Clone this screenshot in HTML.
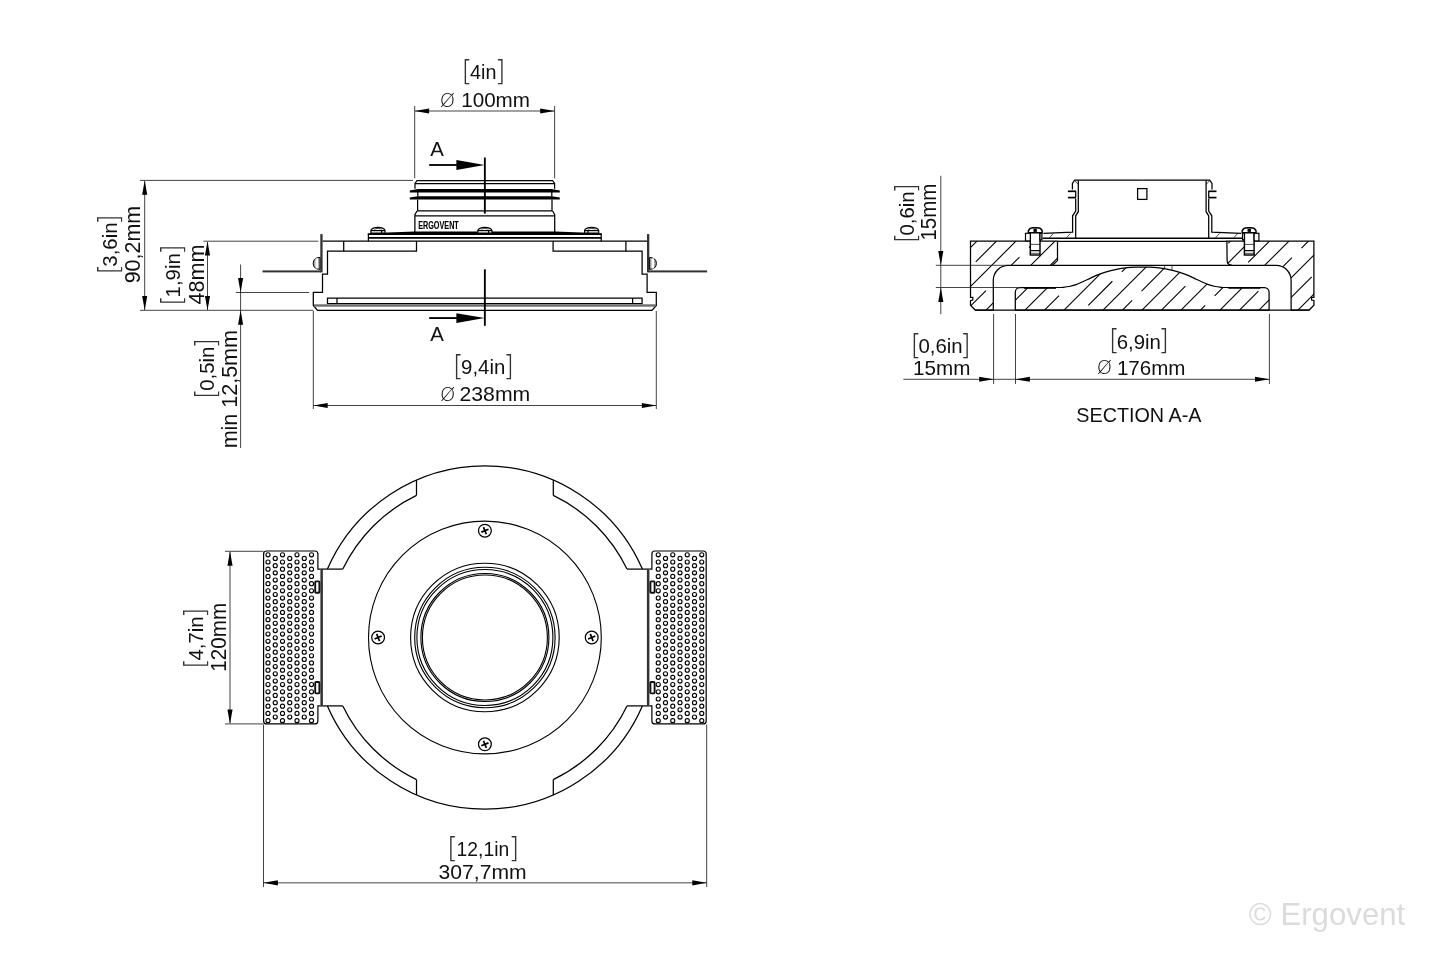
<!DOCTYPE html>
<html lang="en">
<head>
<meta charset="utf-8">
<title>Ergovent dimensional drawing</title>
<style>
html,body{margin:0;padding:0;background:#fff;}
body{width:1440px;height:960px;overflow:hidden;}
svg{display:block;will-change:transform;}
.o{stroke:#000;stroke-width:1.25;fill:none;stroke-linecap:butt;stroke-linejoin:miter;}
.o7{stroke:#000;stroke-width:.7;fill:none;}
.o13{stroke:#000;stroke-width:1.4;fill:none;}
.o16{stroke:#000;stroke-width:1.7;fill:none;}
.ow{stroke:#000;stroke-width:1.2;fill:#fff;}
.ow13{stroke:#000;stroke-width:1.45;fill:#fff;}
.sec{stroke:#000;stroke-width:1.85;fill:none;}
.fill{fill:#000;stroke:none;}
.d{stroke:#222;stroke-width:.85;fill:none;}
.h{stroke:#000;stroke-width:1.08;fill:none;}
.hd{stroke:#000;stroke-width:1.08;fill:none;stroke-dasharray:34 13.4;}
.pf{stroke:#000;stroke-width:1.12;fill:#fff;}
.band{fill:#333;stroke:none;}
.scr{fill:#aaa;stroke:#000;stroke-width:1;}
.clip{fill:#fff;stroke:#111;stroke-width:1.9;}
.oc{stroke:#000;stroke-width:1.12;fill:none;}
.ah{fill:#000;stroke:none;}
text{font-family:"Liberation Sans",sans-serif;fill:#000;}
.t{fill:#111;}
.tb{font-weight:bold;stroke:#000;stroke-width:.12;}
.br{font-family:"DejaVu Sans Light","DejaVu Sans","Liberation Sans",sans-serif;font-weight:200;fill:#333;}
.dia{font-family:"DejaVu Sans Light","DejaVu Sans","Liberation Sans",sans-serif;font-weight:200;fill:#000;}
.wm{fill:#dbdbdb;}
</style>
</head>
<body>
<svg width="1440" height="960" viewBox="0 0 1440 960">
<rect x="0" y="0" width="1440" height="960" fill="#fff"/>
<g id="elevation">
<path class="o" d="M484.8 180.5 L417 180.5 L415 183.4 L415 188.8"/>
<line class="o" x1="484.8" y1="183.5" x2="415.2" y2="183.5"/>
<line class="o" x1="417.8" y1="192" x2="417.8" y2="196.5"/>
<line class="o" x1="417.6" y1="199.5" x2="417.6" y2="210.8"/>
<path class="o" d="M417 211 L414.9 214.6 L414.9 232"/>
<line class="o" x1="484.8" y1="215.8" x2="415" y2="215.8"/>
<path class="o" d="M484.8 180.5 L552.6 180.5 L554.6 183.4 L554.6 188.8"/>
<line class="o" x1="484.8" y1="183.5" x2="554.4" y2="183.5"/>
<line class="o" x1="551.8" y1="192" x2="551.8" y2="196.5"/>
<line class="o" x1="552" y1="199.5" x2="552" y2="210.8"/>
<path class="o" d="M552.6 211 L554.7 214.6 L554.7 232"/>
<line class="o" x1="484.8" y1="215.8" x2="554.6" y2="215.8"/>
<polygon class="fill" points="409.8,190.5 418,189 551.6,189 559.8,190.5 559.8,192.5 409.8,192.5"/>
<polygon class="fill" points="409.8,197.5 418,196.3 551.6,196.3 559.8,197.5 559.8,199.5 409.8,199.5"/>
<line class="o13" x1="417" y1="210.9" x2="552.6" y2="210.9"/>
<text class="tb" x="418.2" y="228.8" textLength="40.6" lengthAdjust="spacingAndGlyphs" font-size="10.3" text-anchor="start">ERGOVENT</text>
<polygon class="fill" points="367.8,233.2 414.6,231.5 555,231.5 601.8,233.2 601.8,234.9 367.8,234.9"/>
<line class="o16" x1="368.3" y1="237.85" x2="601.3" y2="237.85"/>
<line class="o" x1="368.4" y1="233.8" x2="368.4" y2="241.2"/>
<line class="o" x1="601.2" y1="233.8" x2="601.2" y2="241.2"/>
<path class="ow" d="M370.9 233 L370.9 230.6 A7.05 3.2 0 0 1 385 230.6 L385 233 Z"/>
<line class="o" x1="370.9" y1="230.6" x2="385" y2="230.6"/>
<line class="o" x1="381.65" y1="230.6" x2="381.65" y2="233"/>
<path class="o7" d="M374.55 229.7 A3.4 1.2 0 0 1 381.35 229.7"/>
<path class="ow" d="M477.85 233 L477.85 230.6 A7.05 3.2 0 0 1 491.95 230.6 L491.95 233 Z"/>
<line class="o" x1="477.85" y1="230.6" x2="491.95" y2="230.6"/>
<line class="o" x1="488.6" y1="230.6" x2="488.6" y2="233"/>
<path class="o7" d="M481.5 229.7 A3.4 1.2 0 0 1 488.3 229.7"/>
<path class="ow" d="M584.6 233 L584.6 230.6 A7.05 3.2 0 0 1 598.7 230.6 L598.7 233 Z"/>
<line class="o" x1="584.6" y1="230.6" x2="598.7" y2="230.6"/>
<line class="o" x1="587.95" y1="230.6" x2="587.95" y2="233"/>
<path class="o7" d="M588.25 229.7 A3.4 1.2 0 0 1 595.05 229.7"/>
<line class="o" x1="322.5" y1="241.2" x2="484.8" y2="241.2"/>
<path class="o" d="M416.5 241.2 L416.5 251.2 L327.5 251.2 L327.5 274.2 L322.5 274.2 L322.5 292.3 L313.3 292.3 L313.3 305.4 L317.6 310.4 L484.8 310.4"/>
<line class="o" x1="343.7" y1="241.2" x2="343.7" y2="251.2"/>
<path class="o" d="M484.8 298.1 L327.5 298.1 L327.5 303.7 L484.8 303.7"/>
<line class="o" x1="337" y1="298.1" x2="337" y2="303.7"/>
<rect class="band" x="320.3" y="234.1" width="2.3" height="38.3"/>
<path class="scr" d="M320 257.4 Q313.2 257.8 313.2 263.4 Q313.2 269 320 269.4 Z"/>
<rect x="315.6" y="258.4" width="2.4" height="10" fill="#fff"/>
<rect class="band" x="262.5" y="270.4" width="58.5" height="2.0"/>
<line class="o" x1="647.1" y1="241.2" x2="484.8" y2="241.2"/>
<path class="o" d="M553.1 241.2 L553.1 251.2 L642.1 251.2 L642.1 274.2 L647.1 274.2 L647.1 292.3 L656.3 292.3 L656.3 305.4 L652 310.4 L484.8 310.4"/>
<line class="o" x1="625.9" y1="241.2" x2="625.9" y2="251.2"/>
<path class="o" d="M484.8 298.1 L642.1 298.1 L642.1 303.7 L484.8 303.7"/>
<line class="o" x1="632.6" y1="298.1" x2="632.6" y2="303.7"/>
<rect class="band" x="647" y="234.1" width="2.3" height="38.3"/>
<path class="scr" d="M649.6 257.4 Q656.4 257.8 656.4 263.4 Q656.4 269 649.6 269.4 Z"/>
<rect x="651.6" y="258.4" width="2.4" height="10" fill="#fff"/>
<rect class="band" x="648.6" y="270.4" width="58.5" height="2.0"/>
<rect x="314" y="304.3" width="341.6" height="2.4" fill="#6e6e6e"/>
<line class="sec" x1="484.85" y1="157.5" x2="484.85" y2="213.6"/>
<line class="sec" x1="484.85" y1="269.3" x2="484.85" y2="325.8"/>
<line class="sec" x1="429.2" y1="165" x2="460" y2="165"/>
<polygon class="ah" points="484.6,165 456.4,169.9 456.4,160.1"/>
<line class="sec" x1="429.2" y1="318.05" x2="460" y2="318.05"/>
<polygon class="ah" points="484.6,318.05 456.4,322.95 456.4,313.15"/>
<text class="t" x="437" y="156" font-size="20.4" text-anchor="middle">A</text>
<text class="t" x="437" y="340.8" font-size="20.4" text-anchor="middle">A</text>
<line class="d" x1="140" y1="180.4" x2="413" y2="180.4"/>
<line class="d" x1="140" y1="310.3" x2="313.3" y2="310.3"/>
<line class="d" x1="144.7" y1="181" x2="144.7" y2="310"/>
<polygon class="ah" points="144.7,180.4 147.25,194.8 142.15,194.8"/>
<polygon class="ah" points="144.7,310.3 142.15,295.9 147.25,295.9"/>
<line class="d" x1="203.3" y1="241.2" x2="318.3" y2="241.2"/>
<line class="d" x1="207.5" y1="242" x2="207.5" y2="310"/>
<polygon class="ah" points="207.5,241.2 210.05,255.6 204.95,255.6"/>
<polygon class="ah" points="207.5,310.3 204.95,295.9 210.05,295.9"/>
<line class="d" x1="235.8" y1="292.5" x2="309.2" y2="292.5"/>
<line class="d" x1="240.6" y1="264.5" x2="240.6" y2="448"/>
<polygon class="ah" points="240.6,292.5 238.05,278.1 243.15,278.1"/>
<polygon class="ah" points="240.6,310.3 243.15,324.7 238.05,324.7"/>
<line class="d" x1="414.7" y1="106" x2="414.7" y2="178.3"/>
<line class="d" x1="554.6" y1="106" x2="554.6" y2="178.3"/>
<line class="d" x1="414.7" y1="111" x2="554.6" y2="111"/>
<polygon class="ah" points="414.7,111 429.1,108.45 429.1,113.55"/>
<polygon class="ah" points="554.6,111 540.2,113.55 540.2,108.45"/>
<line class="d" x1="313.3" y1="311" x2="313.3" y2="409"/>
<line class="d" x1="656.3" y1="311" x2="656.3" y2="409"/>
<line class="d" x1="313.3" y1="405.5" x2="656.3" y2="405.5"/>
<polygon class="ah" points="313.3,405.5 327.7,402.95 327.7,408.05"/>
<polygon class="ah" points="656.3,405.5 641.9,408.05 641.9,402.95"/>
<text class="t" font-size="21"><tspan class="br" x="461.4" y="80.8" font-size="28" text-anchor="start">[</tspan><tspan x="483.3" y="79" text-anchor="middle" textLength="26.4" lengthAdjust="spacingAndGlyphs">4in</tspan><tspan class="br" x="505.7" y="80.8" font-size="28" text-anchor="end">]</tspan></text>
<text class="t" font-size="21"><tspan class="dia" x="447.5" y="106.6" font-size="19.5" text-anchor="middle">Ø</tspan><tspan x="495.6" y="107" text-anchor="middle" textLength="68.8" lengthAdjust="spacingAndGlyphs">100mm</tspan></text>
<text class="t" transform="translate(117 244.6) rotate(-90)" font-size="21"><tspan class="br" x="-30.1" y="1.8" font-size="28" text-anchor="start">[</tspan><tspan x="0" y="0" text-anchor="middle" textLength="44.2" lengthAdjust="spacingAndGlyphs">3,6in</tspan><tspan class="br" x="30.6" y="1.8" font-size="28" text-anchor="end">]</tspan></text>
<text class="t" x="139.7" y="244.6" transform="rotate(-90 139.7 244.6)" textLength="77.4" lengthAdjust="spacingAndGlyphs" font-size="21.6" text-anchor="middle">90,2mm</text>
<text class="t" transform="translate(180.3 275.3) rotate(-90)" font-size="21"><tspan class="br" x="-30.75" y="1.8" font-size="28" text-anchor="start">[</tspan><tspan x="0" y="0" text-anchor="middle" textLength="44.2" lengthAdjust="spacingAndGlyphs">1,9in</tspan><tspan class="br" x="31.25" y="1.8" font-size="28" text-anchor="end">]</tspan></text>
<text class="t" x="203.6" y="274.5" transform="rotate(-90 203.6 274.5)" textLength="59.8" lengthAdjust="spacingAndGlyphs" font-size="21.6" text-anchor="middle">48mm</text>
<text class="t" transform="translate(213.7 368.7) rotate(-90)" font-size="21"><tspan class="br" x="-30.5" y="1.8" font-size="28" text-anchor="start">[</tspan><tspan x="0" y="0" text-anchor="middle" textLength="44.2" lengthAdjust="spacingAndGlyphs">0,5in</tspan><tspan class="br" x="31" y="1.8" font-size="28" text-anchor="end">]</tspan></text>
<text class="t" x="236.6" y="389.2" transform="rotate(-90 236.6 389.2)" textLength="118.3" lengthAdjust="spacingAndGlyphs" font-size="21.6" text-anchor="middle">min 12,5mm</text>
<text class="t" font-size="21"><tspan class="br" x="452.7" y="375.8" font-size="28" text-anchor="start">[</tspan><tspan x="483.2" y="374" text-anchor="middle" textLength="44.2" lengthAdjust="spacingAndGlyphs">9,4in</tspan><tspan class="br" x="514.2" y="375.8" font-size="28" text-anchor="end">]</tspan></text>
<text class="t" font-size="21"><tspan class="dia" x="447.6" y="400.9" font-size="19.5" text-anchor="middle">Ø</tspan><tspan x="494.9" y="401.3" text-anchor="middle" textLength="70.8" lengthAdjust="spacingAndGlyphs">238mm</tspan></text>
</g>
<g id="plan">
<path class="o" d="M327.41 569.1 A171.7 171.7 0 0 1 642.39 569.1"/>
<path class="o" d="M416.5 495.41 A157.7 157.7 0 0 0 342.81 569.1"/>
<line class="o" x1="416.5" y1="480.01" x2="416.5" y2="495.41"/>
<line class="o" x1="342.81" y1="569.1" x2="320.3" y2="569.1"/>
<path class="o" d="M553.3 495.41 A157.7 157.7 0 0 1 626.99 569.1"/>
<line class="o" x1="553.3" y1="480.01" x2="553.3" y2="495.41"/>
<line class="o" x1="626.99" y1="569.1" x2="649.5" y2="569.1"/>
<path class="o" d="M327.41 705.9 A171.7 171.7 0 0 0 642.39 705.9"/>
<path class="o" d="M416.5 779.59 A157.7 157.7 0 0 1 342.81 705.9"/>
<line class="o" x1="416.5" y1="794.99" x2="416.5" y2="779.59"/>
<line class="o" x1="342.81" y1="705.9" x2="320.3" y2="705.9"/>
<path class="o" d="M553.3 779.59 A157.7 157.7 0 0 0 626.99 705.9"/>
<line class="o" x1="553.3" y1="794.99" x2="553.3" y2="779.59"/>
<line class="o" x1="626.99" y1="705.9" x2="649.5" y2="705.9"/>
<circle class="oc" cx="484.9" cy="637.5" r="116.4"/>
<circle class="oc" cx="484.9" cy="637.5" r="74.3"/>
<circle class="oc" cx="484.9" cy="637.5" r="70.2"/>
<circle class="oc" cx="484.9" cy="637.5" r="68"/>
<circle class="oc" cx="484.9" cy="637.5" r="64"/>
<circle class="oc" cx="484.9" cy="637.5" r="62.5"/>
<circle class="o" cx="591.7" cy="637.5" r="6.4"/>
<path class="o16" d="M588.1 638.95 l7.2 -2.9 M590.25 633.9 l2.9 7.2"/>
<circle class="o" cx="484.9" cy="744.3" r="6.4"/>
<path class="o16" d="M481.3 745.75 l7.2 -2.9 M483.45 740.7 l2.9 7.2"/>
<circle class="o" cx="378.1" cy="637.5" r="6.4"/>
<path class="o16" d="M374.5 638.95 l7.2 -2.9 M376.65 633.9 l2.9 7.2"/>
<circle class="o" cx="484.9" cy="530.7" r="6.4"/>
<path class="o16" d="M481.3 532.15 l7.2 -2.9 M483.45 527.1 l2.9 7.2"/>
<path class="ow" d="M320.4 569.1 L317.9 569.1 L317.9 554 Q317.9 551 314.9 551 L266.6 551 Q263.6 551 263.6 554 L263.6 720.9 Q263.6 723.9 266.6 723.9 L314.9 723.9 Q317.9 723.9 317.9 720.9 L317.9 705.9 L320.4 705.9"/>
<rect class="band" x="320.4" y="569.1" width="2.5" height="136.8"/>
<circle class="pf" cx="268" cy="554.8" r="2.05"/>
<circle class="pf" cx="268" cy="562.01" r="2.05"/>
<circle class="pf" cx="268" cy="569.22" r="2.05"/>
<circle class="pf" cx="268" cy="576.43" r="2.05"/>
<circle class="pf" cx="268" cy="583.64" r="2.05"/>
<circle class="pf" cx="268" cy="590.85" r="2.05"/>
<circle class="pf" cx="268" cy="598.06" r="2.05"/>
<circle class="pf" cx="268" cy="605.27" r="2.05"/>
<circle class="pf" cx="268" cy="612.48" r="2.05"/>
<circle class="pf" cx="268" cy="619.69" r="2.05"/>
<circle class="pf" cx="268" cy="626.9" r="2.05"/>
<circle class="pf" cx="268" cy="634.11" r="2.05"/>
<circle class="pf" cx="268" cy="641.32" r="2.05"/>
<circle class="pf" cx="268" cy="648.53" r="2.05"/>
<circle class="pf" cx="268" cy="655.74" r="2.05"/>
<circle class="pf" cx="268" cy="662.95" r="2.05"/>
<circle class="pf" cx="268" cy="670.16" r="2.05"/>
<circle class="pf" cx="268" cy="677.37" r="2.05"/>
<circle class="pf" cx="268" cy="684.58" r="2.05"/>
<circle class="pf" cx="268" cy="691.79" r="2.05"/>
<circle class="pf" cx="268" cy="699" r="2.05"/>
<circle class="pf" cx="268" cy="706.21" r="2.05"/>
<circle class="pf" cx="268" cy="713.42" r="2.05"/>
<circle class="pf" cx="268" cy="720.63" r="2.05"/>
<circle class="pf" cx="275.25" cy="558.45" r="2.05"/>
<circle class="pf" cx="275.25" cy="565.66" r="2.05"/>
<circle class="pf" cx="275.25" cy="572.87" r="2.05"/>
<circle class="pf" cx="275.25" cy="580.08" r="2.05"/>
<circle class="pf" cx="275.25" cy="587.29" r="2.05"/>
<circle class="pf" cx="275.25" cy="594.5" r="2.05"/>
<circle class="pf" cx="275.25" cy="601.71" r="2.05"/>
<circle class="pf" cx="275.25" cy="608.92" r="2.05"/>
<circle class="pf" cx="275.25" cy="616.13" r="2.05"/>
<circle class="pf" cx="275.25" cy="623.34" r="2.05"/>
<circle class="pf" cx="275.25" cy="630.55" r="2.05"/>
<circle class="pf" cx="275.25" cy="637.76" r="2.05"/>
<circle class="pf" cx="275.25" cy="644.97" r="2.05"/>
<circle class="pf" cx="275.25" cy="652.18" r="2.05"/>
<circle class="pf" cx="275.25" cy="659.39" r="2.05"/>
<circle class="pf" cx="275.25" cy="666.6" r="2.05"/>
<circle class="pf" cx="275.25" cy="673.81" r="2.05"/>
<circle class="pf" cx="275.25" cy="681.02" r="2.05"/>
<circle class="pf" cx="275.25" cy="688.23" r="2.05"/>
<circle class="pf" cx="275.25" cy="695.44" r="2.05"/>
<circle class="pf" cx="275.25" cy="702.65" r="2.05"/>
<circle class="pf" cx="275.25" cy="709.86" r="2.05"/>
<circle class="pf" cx="275.25" cy="717.07" r="2.05"/>
<circle class="pf" cx="282.5" cy="554.8" r="2.05"/>
<circle class="pf" cx="282.5" cy="562.01" r="2.05"/>
<circle class="pf" cx="282.5" cy="569.22" r="2.05"/>
<circle class="pf" cx="282.5" cy="576.43" r="2.05"/>
<circle class="pf" cx="282.5" cy="583.64" r="2.05"/>
<circle class="pf" cx="282.5" cy="590.85" r="2.05"/>
<circle class="pf" cx="282.5" cy="598.06" r="2.05"/>
<circle class="pf" cx="282.5" cy="605.27" r="2.05"/>
<circle class="pf" cx="282.5" cy="612.48" r="2.05"/>
<circle class="pf" cx="282.5" cy="619.69" r="2.05"/>
<circle class="pf" cx="282.5" cy="626.9" r="2.05"/>
<circle class="pf" cx="282.5" cy="634.11" r="2.05"/>
<circle class="pf" cx="282.5" cy="641.32" r="2.05"/>
<circle class="pf" cx="282.5" cy="648.53" r="2.05"/>
<circle class="pf" cx="282.5" cy="655.74" r="2.05"/>
<circle class="pf" cx="282.5" cy="662.95" r="2.05"/>
<circle class="pf" cx="282.5" cy="670.16" r="2.05"/>
<circle class="pf" cx="282.5" cy="677.37" r="2.05"/>
<circle class="pf" cx="282.5" cy="684.58" r="2.05"/>
<circle class="pf" cx="282.5" cy="691.79" r="2.05"/>
<circle class="pf" cx="282.5" cy="699" r="2.05"/>
<circle class="pf" cx="282.5" cy="706.21" r="2.05"/>
<circle class="pf" cx="282.5" cy="713.42" r="2.05"/>
<circle class="pf" cx="282.5" cy="720.63" r="2.05"/>
<circle class="pf" cx="289.75" cy="558.45" r="2.05"/>
<circle class="pf" cx="289.75" cy="565.66" r="2.05"/>
<circle class="pf" cx="289.75" cy="572.87" r="2.05"/>
<circle class="pf" cx="289.75" cy="580.08" r="2.05"/>
<circle class="pf" cx="289.75" cy="587.29" r="2.05"/>
<circle class="pf" cx="289.75" cy="594.5" r="2.05"/>
<circle class="pf" cx="289.75" cy="601.71" r="2.05"/>
<circle class="pf" cx="289.75" cy="608.92" r="2.05"/>
<circle class="pf" cx="289.75" cy="616.13" r="2.05"/>
<circle class="pf" cx="289.75" cy="623.34" r="2.05"/>
<circle class="pf" cx="289.75" cy="630.55" r="2.05"/>
<circle class="pf" cx="289.75" cy="637.76" r="2.05"/>
<circle class="pf" cx="289.75" cy="644.97" r="2.05"/>
<circle class="pf" cx="289.75" cy="652.18" r="2.05"/>
<circle class="pf" cx="289.75" cy="659.39" r="2.05"/>
<circle class="pf" cx="289.75" cy="666.6" r="2.05"/>
<circle class="pf" cx="289.75" cy="673.81" r="2.05"/>
<circle class="pf" cx="289.75" cy="681.02" r="2.05"/>
<circle class="pf" cx="289.75" cy="688.23" r="2.05"/>
<circle class="pf" cx="289.75" cy="695.44" r="2.05"/>
<circle class="pf" cx="289.75" cy="702.65" r="2.05"/>
<circle class="pf" cx="289.75" cy="709.86" r="2.05"/>
<circle class="pf" cx="289.75" cy="717.07" r="2.05"/>
<circle class="pf" cx="297" cy="554.8" r="2.05"/>
<circle class="pf" cx="297" cy="562.01" r="2.05"/>
<circle class="pf" cx="297" cy="569.22" r="2.05"/>
<circle class="pf" cx="297" cy="576.43" r="2.05"/>
<circle class="pf" cx="297" cy="583.64" r="2.05"/>
<circle class="pf" cx="297" cy="590.85" r="2.05"/>
<circle class="pf" cx="297" cy="598.06" r="2.05"/>
<circle class="pf" cx="297" cy="605.27" r="2.05"/>
<circle class="pf" cx="297" cy="612.48" r="2.05"/>
<circle class="pf" cx="297" cy="619.69" r="2.05"/>
<circle class="pf" cx="297" cy="626.9" r="2.05"/>
<circle class="pf" cx="297" cy="634.11" r="2.05"/>
<circle class="pf" cx="297" cy="641.32" r="2.05"/>
<circle class="pf" cx="297" cy="648.53" r="2.05"/>
<circle class="pf" cx="297" cy="655.74" r="2.05"/>
<circle class="pf" cx="297" cy="662.95" r="2.05"/>
<circle class="pf" cx="297" cy="670.16" r="2.05"/>
<circle class="pf" cx="297" cy="677.37" r="2.05"/>
<circle class="pf" cx="297" cy="684.58" r="2.05"/>
<circle class="pf" cx="297" cy="691.79" r="2.05"/>
<circle class="pf" cx="297" cy="699" r="2.05"/>
<circle class="pf" cx="297" cy="706.21" r="2.05"/>
<circle class="pf" cx="297" cy="713.42" r="2.05"/>
<circle class="pf" cx="297" cy="720.63" r="2.05"/>
<circle class="pf" cx="304.25" cy="558.45" r="2.05"/>
<circle class="pf" cx="304.25" cy="565.66" r="2.05"/>
<circle class="pf" cx="304.25" cy="572.87" r="2.05"/>
<circle class="pf" cx="304.25" cy="580.08" r="2.05"/>
<circle class="pf" cx="304.25" cy="587.29" r="2.05"/>
<circle class="pf" cx="304.25" cy="594.5" r="2.05"/>
<circle class="pf" cx="304.25" cy="601.71" r="2.05"/>
<circle class="pf" cx="304.25" cy="608.92" r="2.05"/>
<circle class="pf" cx="304.25" cy="616.13" r="2.05"/>
<circle class="pf" cx="304.25" cy="623.34" r="2.05"/>
<circle class="pf" cx="304.25" cy="630.55" r="2.05"/>
<circle class="pf" cx="304.25" cy="637.76" r="2.05"/>
<circle class="pf" cx="304.25" cy="644.97" r="2.05"/>
<circle class="pf" cx="304.25" cy="652.18" r="2.05"/>
<circle class="pf" cx="304.25" cy="659.39" r="2.05"/>
<circle class="pf" cx="304.25" cy="666.6" r="2.05"/>
<circle class="pf" cx="304.25" cy="673.81" r="2.05"/>
<circle class="pf" cx="304.25" cy="681.02" r="2.05"/>
<circle class="pf" cx="304.25" cy="688.23" r="2.05"/>
<circle class="pf" cx="304.25" cy="695.44" r="2.05"/>
<circle class="pf" cx="304.25" cy="702.65" r="2.05"/>
<circle class="pf" cx="304.25" cy="709.86" r="2.05"/>
<circle class="pf" cx="304.25" cy="717.07" r="2.05"/>
<circle class="pf" cx="311.5" cy="554.8" r="2.05"/>
<circle class="pf" cx="311.5" cy="562.01" r="2.05"/>
<circle class="pf" cx="311.5" cy="569.22" r="2.05"/>
<circle class="pf" cx="311.5" cy="576.43" r="2.05"/>
<circle class="pf" cx="311.5" cy="583.64" r="2.05"/>
<circle class="pf" cx="311.5" cy="590.85" r="2.05"/>
<circle class="pf" cx="311.5" cy="598.06" r="2.05"/>
<circle class="pf" cx="311.5" cy="605.27" r="2.05"/>
<circle class="pf" cx="311.5" cy="612.48" r="2.05"/>
<circle class="pf" cx="311.5" cy="619.69" r="2.05"/>
<circle class="pf" cx="311.5" cy="626.9" r="2.05"/>
<circle class="pf" cx="311.5" cy="634.11" r="2.05"/>
<circle class="pf" cx="311.5" cy="641.32" r="2.05"/>
<circle class="pf" cx="311.5" cy="648.53" r="2.05"/>
<circle class="pf" cx="311.5" cy="655.74" r="2.05"/>
<circle class="pf" cx="311.5" cy="662.95" r="2.05"/>
<circle class="pf" cx="311.5" cy="670.16" r="2.05"/>
<circle class="pf" cx="311.5" cy="677.37" r="2.05"/>
<circle class="pf" cx="311.5" cy="684.58" r="2.05"/>
<circle class="pf" cx="311.5" cy="691.79" r="2.05"/>
<circle class="pf" cx="311.5" cy="699" r="2.05"/>
<circle class="pf" cx="311.5" cy="706.21" r="2.05"/>
<circle class="pf" cx="311.5" cy="713.42" r="2.05"/>
<circle class="pf" cx="311.5" cy="720.63" r="2.05"/>
<rect class="clip" x="315.2" y="581.4" width="4.2" height="11.4" rx="0.8"/>
<rect class="clip" x="315.2" y="682" width="4.2" height="11.4" rx="0.8"/>
<path class="ow" d="M649.4 569.1 L651.9 569.1 L651.9 554 Q651.9 551 654.9 551 L703.2 551 Q706.2 551 706.2 554 L706.2 720.9 Q706.2 723.9 703.2 723.9 L654.9 723.9 Q651.9 723.9 651.9 720.9 L651.9 705.9 L649.4 705.9"/>
<rect class="band" x="646.9" y="569.1" width="2.5" height="136.8"/>
<circle class="pf" cx="658.25" cy="554.8" r="2.05"/>
<circle class="pf" cx="658.25" cy="562.01" r="2.05"/>
<circle class="pf" cx="658.25" cy="569.22" r="2.05"/>
<circle class="pf" cx="658.25" cy="576.43" r="2.05"/>
<circle class="pf" cx="658.25" cy="583.64" r="2.05"/>
<circle class="pf" cx="658.25" cy="590.85" r="2.05"/>
<circle class="pf" cx="658.25" cy="598.06" r="2.05"/>
<circle class="pf" cx="658.25" cy="605.27" r="2.05"/>
<circle class="pf" cx="658.25" cy="612.48" r="2.05"/>
<circle class="pf" cx="658.25" cy="619.69" r="2.05"/>
<circle class="pf" cx="658.25" cy="626.9" r="2.05"/>
<circle class="pf" cx="658.25" cy="634.11" r="2.05"/>
<circle class="pf" cx="658.25" cy="641.32" r="2.05"/>
<circle class="pf" cx="658.25" cy="648.53" r="2.05"/>
<circle class="pf" cx="658.25" cy="655.74" r="2.05"/>
<circle class="pf" cx="658.25" cy="662.95" r="2.05"/>
<circle class="pf" cx="658.25" cy="670.16" r="2.05"/>
<circle class="pf" cx="658.25" cy="677.37" r="2.05"/>
<circle class="pf" cx="658.25" cy="684.58" r="2.05"/>
<circle class="pf" cx="658.25" cy="691.79" r="2.05"/>
<circle class="pf" cx="658.25" cy="699" r="2.05"/>
<circle class="pf" cx="658.25" cy="706.21" r="2.05"/>
<circle class="pf" cx="658.25" cy="713.42" r="2.05"/>
<circle class="pf" cx="658.25" cy="720.63" r="2.05"/>
<circle class="pf" cx="665.5" cy="558.45" r="2.05"/>
<circle class="pf" cx="665.5" cy="565.66" r="2.05"/>
<circle class="pf" cx="665.5" cy="572.87" r="2.05"/>
<circle class="pf" cx="665.5" cy="580.08" r="2.05"/>
<circle class="pf" cx="665.5" cy="587.29" r="2.05"/>
<circle class="pf" cx="665.5" cy="594.5" r="2.05"/>
<circle class="pf" cx="665.5" cy="601.71" r="2.05"/>
<circle class="pf" cx="665.5" cy="608.92" r="2.05"/>
<circle class="pf" cx="665.5" cy="616.13" r="2.05"/>
<circle class="pf" cx="665.5" cy="623.34" r="2.05"/>
<circle class="pf" cx="665.5" cy="630.55" r="2.05"/>
<circle class="pf" cx="665.5" cy="637.76" r="2.05"/>
<circle class="pf" cx="665.5" cy="644.97" r="2.05"/>
<circle class="pf" cx="665.5" cy="652.18" r="2.05"/>
<circle class="pf" cx="665.5" cy="659.39" r="2.05"/>
<circle class="pf" cx="665.5" cy="666.6" r="2.05"/>
<circle class="pf" cx="665.5" cy="673.81" r="2.05"/>
<circle class="pf" cx="665.5" cy="681.02" r="2.05"/>
<circle class="pf" cx="665.5" cy="688.23" r="2.05"/>
<circle class="pf" cx="665.5" cy="695.44" r="2.05"/>
<circle class="pf" cx="665.5" cy="702.65" r="2.05"/>
<circle class="pf" cx="665.5" cy="709.86" r="2.05"/>
<circle class="pf" cx="665.5" cy="717.07" r="2.05"/>
<circle class="pf" cx="672.75" cy="554.8" r="2.05"/>
<circle class="pf" cx="672.75" cy="562.01" r="2.05"/>
<circle class="pf" cx="672.75" cy="569.22" r="2.05"/>
<circle class="pf" cx="672.75" cy="576.43" r="2.05"/>
<circle class="pf" cx="672.75" cy="583.64" r="2.05"/>
<circle class="pf" cx="672.75" cy="590.85" r="2.05"/>
<circle class="pf" cx="672.75" cy="598.06" r="2.05"/>
<circle class="pf" cx="672.75" cy="605.27" r="2.05"/>
<circle class="pf" cx="672.75" cy="612.48" r="2.05"/>
<circle class="pf" cx="672.75" cy="619.69" r="2.05"/>
<circle class="pf" cx="672.75" cy="626.9" r="2.05"/>
<circle class="pf" cx="672.75" cy="634.11" r="2.05"/>
<circle class="pf" cx="672.75" cy="641.32" r="2.05"/>
<circle class="pf" cx="672.75" cy="648.53" r="2.05"/>
<circle class="pf" cx="672.75" cy="655.74" r="2.05"/>
<circle class="pf" cx="672.75" cy="662.95" r="2.05"/>
<circle class="pf" cx="672.75" cy="670.16" r="2.05"/>
<circle class="pf" cx="672.75" cy="677.37" r="2.05"/>
<circle class="pf" cx="672.75" cy="684.58" r="2.05"/>
<circle class="pf" cx="672.75" cy="691.79" r="2.05"/>
<circle class="pf" cx="672.75" cy="699" r="2.05"/>
<circle class="pf" cx="672.75" cy="706.21" r="2.05"/>
<circle class="pf" cx="672.75" cy="713.42" r="2.05"/>
<circle class="pf" cx="672.75" cy="720.63" r="2.05"/>
<circle class="pf" cx="680" cy="558.45" r="2.05"/>
<circle class="pf" cx="680" cy="565.66" r="2.05"/>
<circle class="pf" cx="680" cy="572.87" r="2.05"/>
<circle class="pf" cx="680" cy="580.08" r="2.05"/>
<circle class="pf" cx="680" cy="587.29" r="2.05"/>
<circle class="pf" cx="680" cy="594.5" r="2.05"/>
<circle class="pf" cx="680" cy="601.71" r="2.05"/>
<circle class="pf" cx="680" cy="608.92" r="2.05"/>
<circle class="pf" cx="680" cy="616.13" r="2.05"/>
<circle class="pf" cx="680" cy="623.34" r="2.05"/>
<circle class="pf" cx="680" cy="630.55" r="2.05"/>
<circle class="pf" cx="680" cy="637.76" r="2.05"/>
<circle class="pf" cx="680" cy="644.97" r="2.05"/>
<circle class="pf" cx="680" cy="652.18" r="2.05"/>
<circle class="pf" cx="680" cy="659.39" r="2.05"/>
<circle class="pf" cx="680" cy="666.6" r="2.05"/>
<circle class="pf" cx="680" cy="673.81" r="2.05"/>
<circle class="pf" cx="680" cy="681.02" r="2.05"/>
<circle class="pf" cx="680" cy="688.23" r="2.05"/>
<circle class="pf" cx="680" cy="695.44" r="2.05"/>
<circle class="pf" cx="680" cy="702.65" r="2.05"/>
<circle class="pf" cx="680" cy="709.86" r="2.05"/>
<circle class="pf" cx="680" cy="717.07" r="2.05"/>
<circle class="pf" cx="687.25" cy="554.8" r="2.05"/>
<circle class="pf" cx="687.25" cy="562.01" r="2.05"/>
<circle class="pf" cx="687.25" cy="569.22" r="2.05"/>
<circle class="pf" cx="687.25" cy="576.43" r="2.05"/>
<circle class="pf" cx="687.25" cy="583.64" r="2.05"/>
<circle class="pf" cx="687.25" cy="590.85" r="2.05"/>
<circle class="pf" cx="687.25" cy="598.06" r="2.05"/>
<circle class="pf" cx="687.25" cy="605.27" r="2.05"/>
<circle class="pf" cx="687.25" cy="612.48" r="2.05"/>
<circle class="pf" cx="687.25" cy="619.69" r="2.05"/>
<circle class="pf" cx="687.25" cy="626.9" r="2.05"/>
<circle class="pf" cx="687.25" cy="634.11" r="2.05"/>
<circle class="pf" cx="687.25" cy="641.32" r="2.05"/>
<circle class="pf" cx="687.25" cy="648.53" r="2.05"/>
<circle class="pf" cx="687.25" cy="655.74" r="2.05"/>
<circle class="pf" cx="687.25" cy="662.95" r="2.05"/>
<circle class="pf" cx="687.25" cy="670.16" r="2.05"/>
<circle class="pf" cx="687.25" cy="677.37" r="2.05"/>
<circle class="pf" cx="687.25" cy="684.58" r="2.05"/>
<circle class="pf" cx="687.25" cy="691.79" r="2.05"/>
<circle class="pf" cx="687.25" cy="699" r="2.05"/>
<circle class="pf" cx="687.25" cy="706.21" r="2.05"/>
<circle class="pf" cx="687.25" cy="713.42" r="2.05"/>
<circle class="pf" cx="687.25" cy="720.63" r="2.05"/>
<circle class="pf" cx="694.5" cy="558.45" r="2.05"/>
<circle class="pf" cx="694.5" cy="565.66" r="2.05"/>
<circle class="pf" cx="694.5" cy="572.87" r="2.05"/>
<circle class="pf" cx="694.5" cy="580.08" r="2.05"/>
<circle class="pf" cx="694.5" cy="587.29" r="2.05"/>
<circle class="pf" cx="694.5" cy="594.5" r="2.05"/>
<circle class="pf" cx="694.5" cy="601.71" r="2.05"/>
<circle class="pf" cx="694.5" cy="608.92" r="2.05"/>
<circle class="pf" cx="694.5" cy="616.13" r="2.05"/>
<circle class="pf" cx="694.5" cy="623.34" r="2.05"/>
<circle class="pf" cx="694.5" cy="630.55" r="2.05"/>
<circle class="pf" cx="694.5" cy="637.76" r="2.05"/>
<circle class="pf" cx="694.5" cy="644.97" r="2.05"/>
<circle class="pf" cx="694.5" cy="652.18" r="2.05"/>
<circle class="pf" cx="694.5" cy="659.39" r="2.05"/>
<circle class="pf" cx="694.5" cy="666.6" r="2.05"/>
<circle class="pf" cx="694.5" cy="673.81" r="2.05"/>
<circle class="pf" cx="694.5" cy="681.02" r="2.05"/>
<circle class="pf" cx="694.5" cy="688.23" r="2.05"/>
<circle class="pf" cx="694.5" cy="695.44" r="2.05"/>
<circle class="pf" cx="694.5" cy="702.65" r="2.05"/>
<circle class="pf" cx="694.5" cy="709.86" r="2.05"/>
<circle class="pf" cx="694.5" cy="717.07" r="2.05"/>
<circle class="pf" cx="701.75" cy="554.8" r="2.05"/>
<circle class="pf" cx="701.75" cy="562.01" r="2.05"/>
<circle class="pf" cx="701.75" cy="569.22" r="2.05"/>
<circle class="pf" cx="701.75" cy="576.43" r="2.05"/>
<circle class="pf" cx="701.75" cy="583.64" r="2.05"/>
<circle class="pf" cx="701.75" cy="590.85" r="2.05"/>
<circle class="pf" cx="701.75" cy="598.06" r="2.05"/>
<circle class="pf" cx="701.75" cy="605.27" r="2.05"/>
<circle class="pf" cx="701.75" cy="612.48" r="2.05"/>
<circle class="pf" cx="701.75" cy="619.69" r="2.05"/>
<circle class="pf" cx="701.75" cy="626.9" r="2.05"/>
<circle class="pf" cx="701.75" cy="634.11" r="2.05"/>
<circle class="pf" cx="701.75" cy="641.32" r="2.05"/>
<circle class="pf" cx="701.75" cy="648.53" r="2.05"/>
<circle class="pf" cx="701.75" cy="655.74" r="2.05"/>
<circle class="pf" cx="701.75" cy="662.95" r="2.05"/>
<circle class="pf" cx="701.75" cy="670.16" r="2.05"/>
<circle class="pf" cx="701.75" cy="677.37" r="2.05"/>
<circle class="pf" cx="701.75" cy="684.58" r="2.05"/>
<circle class="pf" cx="701.75" cy="691.79" r="2.05"/>
<circle class="pf" cx="701.75" cy="699" r="2.05"/>
<circle class="pf" cx="701.75" cy="706.21" r="2.05"/>
<circle class="pf" cx="701.75" cy="713.42" r="2.05"/>
<circle class="pf" cx="701.75" cy="720.63" r="2.05"/>
<rect class="clip" x="650.4" y="581.4" width="4.2" height="11.4" rx="0.8"/>
<rect class="clip" x="650.4" y="682" width="4.2" height="11.4" rx="0.8"/>
<line class="d" x1="225" y1="551.3" x2="263.6" y2="551.3"/>
<line class="d" x1="225" y1="723.9" x2="263.6" y2="723.9"/>
<line class="d" x1="230" y1="552" x2="230" y2="723"/>
<polygon class="ah" points="230,551.3 232.55,565.7 227.45,565.7"/>
<polygon class="ah" points="230,723.9 227.45,709.5 232.55,709.5"/>
<line class="d" x1="263.5" y1="724.5" x2="263.5" y2="887"/>
<line class="d" x1="706.7" y1="724.5" x2="706.7" y2="887"/>
<line class="d" x1="263.5" y1="882.85" x2="706.7" y2="882.85"/>
<polygon class="ah" points="263.5,882.85 277.9,880.3 277.9,885.4"/>
<polygon class="ah" points="706.7,882.85 692.3,885.4 692.3,880.3"/>
<text class="t" transform="translate(202.9 638.4) rotate(-90)" font-size="21"><tspan class="br" x="-30.6" y="1.8" font-size="28" text-anchor="start">[</tspan><tspan x="0" y="0" text-anchor="middle" textLength="44.2" lengthAdjust="spacingAndGlyphs">4,7in</tspan><tspan class="br" x="31.1" y="1.8" font-size="28" text-anchor="end">]</tspan></text>
<text class="t" x="225.9" y="637.3" transform="rotate(-90 225.9 637.3)" textLength="68.8" lengthAdjust="spacingAndGlyphs" font-size="21.6" text-anchor="middle">120mm</text>
<text class="t" font-size="21"><tspan class="br" x="446.9" y="857.9" font-size="28" text-anchor="start">[</tspan><tspan x="482.9" y="856.1" text-anchor="middle" textLength="52.6" lengthAdjust="spacingAndGlyphs">12,1in</tspan><tspan class="br" x="519.4" y="857.9" font-size="28" text-anchor="end">]</tspan></text>
<text class="t" x="482.6" y="879.1" textLength="88" lengthAdjust="spacingAndGlyphs" font-size="21" text-anchor="middle">307,7mm</text>
</g>
<g id="section">
<defs><clipPath id="cpS"><path d="M1015.3 310 L1015.3 292.2 A4.7 4.7 0 0 1 1020 287.5 L1061.9 287.4 C1063.12 287.25 1066.85 286.97 1069.2 286.5 C1071.55 286.03 1073.58 285.47 1076 284.6 C1078.42 283.73 1081.25 282.42 1083.75 281.3 C1086.25 280.18 1088.58 279 1091 277.9 C1093.42 276.8 1095.88 275.65 1098.3 274.7 C1100.72 273.75 1103.07 272.95 1105.5 272.2 C1107.93 271.45 1110.48 270.78 1112.9 270.2 C1115.32 269.62 1117.57 269.12 1120 268.7 C1122.43 268.28 1125 267.95 1127.5 267.7 C1130 267.45 1132.55 267.32 1135 267.2 C1137.45 267.08 1139.8 267 1142.2 267 C1144.6 267 1146.95 267.08 1149.4 267.2 C1151.85 267.32 1154.4 267.45 1156.9 267.7 C1159.4 267.95 1161.97 268.28 1164.4 268.7 C1166.83 269.12 1169.08 269.62 1171.5 270.2 C1173.92 270.78 1176.47 271.45 1178.9 272.2 C1181.33 272.95 1183.68 273.75 1186.1 274.7 C1188.52 275.65 1190.98 276.8 1193.4 277.9 C1195.83 279 1198.15 280.18 1200.65 281.3 C1203.15 282.42 1205.98 283.73 1208.4 284.6 C1210.83 285.47 1212.85 286.03 1215.2 286.5 C1217.55 286.97 1221.28 287.25 1222.5 287.4 L1264.4 287.5 A4.7 4.7 0 0 1 1269.1 292.2 L1269.1 310 Z"/><path d="M970.5 241.2 L1057.5 241.2 L1057.5 260.6 L1052.4 265.3 L1008.3 265.3 A15 15 0 0 0 993.3 280.3 L993.3 310 L975.2 310 L970.5 305.2 L970.5 300.5 L972.8 300 L972.8 297.3 L970.5 297.3 Z"/><path d="M1313.9 241.2 L1226.9 241.2 L1227.1 260.3 Q1227.1 265.3 1232.2 265.3 L1276.1 265.3 A15 15 0 0 1 1291.1 280.3 L1291.1 310 L1309.2 310 L1313.9 305.2 L1313.9 300.5 L1311.6 300 L1311.6 297.3 L1313.9 297.3 Z"/></clipPath></defs>
<g clip-path="url(#cpS)">
<line class="hd" x1="693.5" y1="310.1" x2="768.5" y2="235.1" stroke-dashoffset="5.6"/>
<line class="h" x1="713" y1="310.1" x2="788" y2="235.1"/>
<line class="hd" x1="732.5" y1="310.1" x2="807.5" y2="235.1" stroke-dashoffset="32.8"/>
<line class="h" x1="752" y1="310.1" x2="827" y2="235.1"/>
<line class="hd" x1="771.5" y1="310.1" x2="846.5" y2="235.1" stroke-dashoffset="12.6"/>
<line class="h" x1="791" y1="310.1" x2="866" y2="235.1"/>
<line class="hd" x1="810.5" y1="310.1" x2="885.5" y2="235.1" stroke-dashoffset="39.8"/>
<line class="h" x1="830" y1="310.1" x2="905" y2="235.1"/>
<line class="hd" x1="849.5" y1="310.1" x2="924.5" y2="235.1" stroke-dashoffset="19.6"/>
<line class="h" x1="869" y1="310.1" x2="944" y2="235.1"/>
<line class="hd" x1="888.5" y1="310.1" x2="963.5" y2="235.1" stroke-dashoffset="46.8"/>
<line class="h" x1="908" y1="310.1" x2="983" y2="235.1"/>
<line class="hd" x1="927.5" y1="310.1" x2="1002.5" y2="235.1" stroke-dashoffset="26.6"/>
<line class="h" x1="947" y1="310.1" x2="1022" y2="235.1"/>
<line class="hd" x1="966.5" y1="310.1" x2="1041.5" y2="235.1" stroke-dashoffset="6.4"/>
<line class="h" x1="986" y1="310.1" x2="1061" y2="235.1"/>
<line class="hd" x1="1005.5" y1="310.1" x2="1080.5" y2="235.1" stroke-dashoffset="33.6"/>
<line class="h" x1="1025" y1="310.1" x2="1100" y2="235.1"/>
<line class="hd" x1="1044.5" y1="310.1" x2="1119.5" y2="235.1" stroke-dashoffset="13.4"/>
<line class="h" x1="1064" y1="310.1" x2="1139" y2="235.1"/>
<line class="hd" x1="1083.5" y1="310.1" x2="1158.5" y2="235.1" stroke-dashoffset="40.6"/>
<line class="h" x1="1103" y1="310.1" x2="1178" y2="235.1"/>
<line class="hd" x1="1122.5" y1="310.1" x2="1197.5" y2="235.1" stroke-dashoffset="20.4"/>
<line class="h" x1="1142" y1="310.1" x2="1217" y2="235.1"/>
<line class="hd" x1="1161.5" y1="310.1" x2="1236.5" y2="235.1" stroke-dashoffset="0.2"/>
<line class="h" x1="1181" y1="310.1" x2="1256" y2="235.1"/>
<line class="hd" x1="1200.5" y1="310.1" x2="1275.5" y2="235.1" stroke-dashoffset="27.4"/>
<line class="h" x1="1220" y1="310.1" x2="1295" y2="235.1"/>
<line class="hd" x1="1239.5" y1="310.1" x2="1314.5" y2="235.1" stroke-dashoffset="7.2"/>
<line class="h" x1="1259" y1="310.1" x2="1334" y2="235.1"/>
<line class="hd" x1="1278.5" y1="310.1" x2="1353.5" y2="235.1" stroke-dashoffset="34.4"/>
<line class="h" x1="1298" y1="310.1" x2="1373" y2="235.1"/>
<line class="hd" x1="1317.5" y1="310.1" x2="1392.5" y2="235.1" stroke-dashoffset="14.2"/>
<line class="h" x1="1337" y1="310.1" x2="1412" y2="235.1"/>
<line class="hd" x1="1356.5" y1="310.1" x2="1431.5" y2="235.1" stroke-dashoffset="41.4"/>
<line class="h" x1="1376" y1="310.1" x2="1451" y2="235.1"/>
<line class="hd" x1="1395.5" y1="310.1" x2="1470.5" y2="235.1" stroke-dashoffset="21.2"/>
<line class="h" x1="1415" y1="310.1" x2="1490" y2="235.1"/>
<line class="hd" x1="1434.5" y1="310.1" x2="1509.5" y2="235.1" stroke-dashoffset="1"/>
<line class="h" x1="1454" y1="310.1" x2="1529" y2="235.1"/>
<line class="hd" x1="1473.5" y1="310.1" x2="1548.5" y2="235.1" stroke-dashoffset="28.2"/>
<line class="h" x1="1493" y1="310.1" x2="1568" y2="235.1"/>
</g>
<path class="o" d="M1015.3 310 L1015.3 292.2 A4.7 4.7 0 0 1 1020 287.5 L1061.9 287.4 C1063.12 287.25 1066.85 286.97 1069.2 286.5 C1071.55 286.03 1073.58 285.47 1076 284.6 C1078.42 283.73 1081.25 282.42 1083.75 281.3 C1086.25 280.18 1088.58 279 1091 277.9 C1093.42 276.8 1095.88 275.65 1098.3 274.7 C1100.72 273.75 1103.07 272.95 1105.5 272.2 C1107.93 271.45 1110.48 270.78 1112.9 270.2 C1115.32 269.62 1117.57 269.12 1120 268.7 C1122.43 268.28 1125 267.95 1127.5 267.7 C1130 267.45 1132.55 267.32 1135 267.2 C1137.45 267.08 1139.8 267 1142.2 267 C1144.6 267 1146.95 267.08 1149.4 267.2 C1151.85 267.32 1154.4 267.45 1156.9 267.7 C1159.4 267.95 1161.97 268.28 1164.4 268.7 C1166.83 269.12 1169.08 269.62 1171.5 270.2 C1173.92 270.78 1176.47 271.45 1178.9 272.2 C1181.33 272.95 1183.68 273.75 1186.1 274.7 C1188.52 275.65 1190.98 276.8 1193.4 277.9 C1195.83 279 1198.15 280.18 1200.65 281.3 C1203.15 282.42 1205.98 283.73 1208.4 284.6 C1210.83 285.47 1212.85 286.03 1215.2 286.5 C1217.55 286.97 1221.28 287.25 1222.5 287.4 L1264.4 287.5 A4.7 4.7 0 0 1 1269.1 292.2 L1269.1 310 Z"/>
<path class="o" d="M970.5 241.2 L1057.5 241.2 L1057.5 260.6 L1052.4 265.3 L1008.3 265.3 A15 15 0 0 0 993.3 280.3 L993.3 310 L975.2 310 L970.5 305.2 L970.5 300.5 L972.8 300 L972.8 297.3 L970.5 297.3 Z"/>
<path class="o" d="M1313.9 241.2 L1226.9 241.2 L1227.1 260.3 Q1227.1 265.3 1232.2 265.3 L1276.1 265.3 A15 15 0 0 1 1291.1 280.3 L1291.1 310 L1309.2 310 L1313.9 305.2 L1313.9 300.5 L1311.6 300 L1311.6 297.3 L1313.9 297.3 Z"/>
<line class="o" x1="1052.4" y1="265.3" x2="1232" y2="265.3"/>
<line class="o" x1="975.2" y1="310" x2="1309.2" y2="310"/>
<line class="o" x1="1024" y1="288.2" x2="1056" y2="288.2"/>
<line class="o" x1="1260.4" y1="288.2" x2="1228.4" y2="288.2"/>
<line class="o7" x1="1164.6" y1="265.3" x2="1164.6" y2="269.2"/>
<line class="o7" x1="1172" y1="265.3" x2="1172" y2="270.6"/>
<line class="o" x1="1057.5" y1="241.3" x2="1226.9" y2="241.3"/>
<line class="o13" x1="1042.4" y1="238.2" x2="1242" y2="238.2"/>
<path class="o" d="M1142.2 180.2 L1074.7 180.2 L1072.4 183.5 L1072.4 189.4"/>
<line class="o16" x1="1067.9" y1="191.3" x2="1076" y2="191.3"/>
<line class="o16" x1="1067.9" y1="197.6" x2="1076" y2="197.6"/>
<line class="o" x1="1075.7" y1="191.3" x2="1075.7" y2="197.6"/>
<path class="o" d="M1075.7 198.5 L1075.7 211.1 L1072.6 215.8 L1072.6 232.2 L1043.4 233.3"/>
<path class="o" d="M1078.3 180.2 L1078.3 211.7 L1075.7 215.8 L1075.7 238.2"/>
<path class="o7" d="M1074.7 180.5 L1078.3 184.5"/>
<path class="ow13" d="M1028.4 232.8 L1028.4 230.6 Q1029.6 227.7 1033.6 227.7 L1037 227.7 Q1041 227.7 1042.2 230.6 L1042.2 232.8 Z"/>
<rect class="ow13" x="1030.3" y="232.8" width="9.7" height="22.2"/>
<line class="o7" x1="1030.3" y1="244.4" x2="1040" y2="244.4"/>
<line class="o" x1="1030.3" y1="250.6" x2="1040" y2="250.6"/>
<line class="o7" x1="1030.3" y1="253.3" x2="1040" y2="253.3"/>
<rect class="fill" x="1033.45" y="228.7" width="3.4" height="3.2"/>
<rect class="ow" x="1025.5" y="233.3" width="4.8" height="7.6"/>
<rect class="ow" x="1040" y="233.3" width="1.9" height="6.6"/>
<path class="o" d="M1142.2 180.2 L1209.7 180.2 L1212 183.5 L1212 189.4"/>
<line class="o16" x1="1216.5" y1="191.3" x2="1208.4" y2="191.3"/>
<line class="o16" x1="1216.5" y1="197.6" x2="1208.4" y2="197.6"/>
<line class="o" x1="1208.7" y1="191.3" x2="1208.7" y2="197.6"/>
<path class="o" d="M1208.7 198.5 L1208.7 211.1 L1211.8 215.8 L1211.8 232.2 L1241 233.3"/>
<path class="o" d="M1206.1 180.2 L1206.1 211.7 L1208.7 215.8 L1208.7 238.2"/>
<path class="o7" d="M1209.7 180.5 L1206.1 184.5"/>
<path class="ow13" d="M1242.2 232.8 L1242.2 230.6 Q1243.4 227.7 1247.4 227.7 L1250.8 227.7 Q1254.8 227.7 1256 230.6 L1256 232.8 Z"/>
<rect class="ow13" x="1244.4" y="232.8" width="9.7" height="22.2"/>
<line class="o7" x1="1244.4" y1="244.4" x2="1254.1" y2="244.4"/>
<line class="o" x1="1244.4" y1="250.6" x2="1254.1" y2="250.6"/>
<line class="o7" x1="1244.4" y1="253.3" x2="1254.1" y2="253.3"/>
<rect class="fill" x="1247.55" y="228.7" width="3.4" height="3.2"/>
<rect class="ow" x="1254.1" y="233.3" width="4.8" height="7.6"/>
<rect class="ow" x="1242.5" y="233.3" width="1.9" height="6.6"/>
<line class="o7" x1="1215.6" y1="237.7" x2="1219.5" y2="233.4"/>
<line class="o7" x1="1233.9" y1="237.7" x2="1237.8" y2="233.4"/>
<line class="o7" x1="1049.5" y1="237.7" x2="1053.4" y2="233.4"/>
<line class="o7" x1="1066.5" y1="237.7" x2="1070.4" y2="233.4"/>
<rect class="o" x="1137.6" y="188.6" width="9.3" height="10.8"/>
<line class="d" x1="940.8" y1="175.8" x2="940.8" y2="314.2"/>
<polygon class="ah" points="940.8,265.3 938.25,250.9 943.35,250.9"/>
<polygon class="ah" points="940.8,287.5 943.35,301.9 938.25,301.9"/>
<line class="d" x1="935.8" y1="265.3" x2="1008.3" y2="265.3"/>
<line class="d" x1="935.8" y1="287.5" x2="1020" y2="287.5"/>
<line class="d" x1="903.3" y1="379.3" x2="1269.4" y2="379.3"/>
<line class="d" x1="993.6" y1="314" x2="993.6" y2="384"/>
<line class="d" x1="1015.5" y1="314" x2="1015.5" y2="384"/>
<line class="d" x1="1269.4" y1="314" x2="1269.4" y2="384"/>
<polygon class="ah" points="993.6,379.3 979.2,381.85 979.2,376.75"/>
<polygon class="ah" points="1015.5,379.3 1029.9,376.75 1029.9,381.85"/>
<polygon class="ah" points="1269.4,379.3 1255,381.85 1255,376.75"/>
<text class="t" transform="translate(914.3 213.4) rotate(-90)" font-size="21"><tspan class="br" x="-30.2" y="1.8" font-size="28" text-anchor="start">[</tspan><tspan x="0" y="0" text-anchor="middle" textLength="44.2" lengthAdjust="spacingAndGlyphs">0,6in</tspan><tspan class="br" x="30.7" y="1.8" font-size="28" text-anchor="end">]</tspan></text>
<text class="t" x="936.4" y="212.1" transform="rotate(-90 936.4 212.1)" textLength="56.8" lengthAdjust="spacingAndGlyphs" font-size="21.6" text-anchor="middle">15mm</text>
<text class="t" font-size="21"><tspan class="br" x="910.5" y="354.5" font-size="28" text-anchor="start">[</tspan><tspan x="940.5" y="352.7" text-anchor="middle" textLength="44.2" lengthAdjust="spacingAndGlyphs">0,6in</tspan><tspan class="br" x="971" y="354.5" font-size="28" text-anchor="end">]</tspan></text>
<text class="t" x="941.7" y="374.7" textLength="57.4" lengthAdjust="spacingAndGlyphs" font-size="21" text-anchor="middle">15mm</text>
<text class="t" font-size="21"><tspan class="br" x="1108.8" y="350.4" font-size="28" text-anchor="start">[</tspan><tspan x="1138.8" y="348.6" text-anchor="middle" textLength="44.2" lengthAdjust="spacingAndGlyphs">6,9in</tspan><tspan class="br" x="1169.3" y="350.4" font-size="28" text-anchor="end">]</tspan></text>
<text class="t" font-size="21"><tspan class="dia" x="1104.4" y="374.2" font-size="19.5" text-anchor="middle">Ø</tspan><tspan x="1151.2" y="374.6" text-anchor="middle" textLength="68.6" lengthAdjust="spacingAndGlyphs">176mm</tspan></text>
<text class="t" x="1138.9" y="421.8" textLength="125.2" lengthAdjust="spacingAndGlyphs" font-size="19.3" text-anchor="middle">SECTION A-A</text>
</g>
<text class="wm" x="1327" y="924.7" textLength="156.5" lengthAdjust="spacingAndGlyphs" font-size="31.5" text-anchor="middle">© Ergovent</text>
</svg>
</body>
</html>
